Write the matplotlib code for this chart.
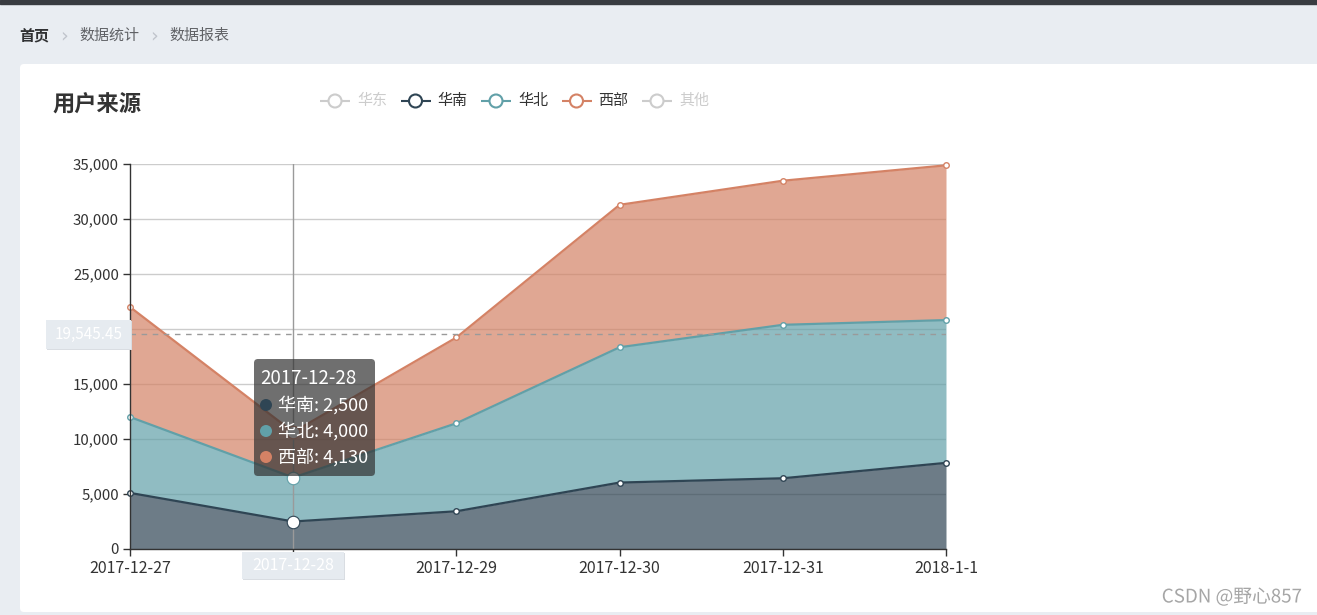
import matplotlib

matplotlib.use("Agg")
import matplotlib.pyplot as plt
from matplotlib import patheffects
from matplotlib.patches import Circle, FancyBboxPatch, Rectangle
from matplotlib.ticker import FuncFormatter

plt.rcParams["font.family"] = ["Noto Sans CJK SC", "DejaVu Sans"]

# data
dates = ["2017-12-27", "2017-12-28", "2017-12-29", "2017-12-30", "2017-12-31", "2018-1-1"]
south = [5100, 2500, 3430, 6040, 6430, 7830]
north = [6900, 4000, 8000, 12300, 13950, 12980]
west = [10000, 4130, 7800, 12950, 13100, 14070]
series_names = ["华南", "华北", "西部"]
series_values = [south, north, west]
series_colors = ["#2f4554", "#61a0a8", "#d48265"]

legend_names = ["华东", "华南", "华北", "西部", "其他"]
legend_colors = ["#c23531", "#2f4554", "#61a0a8", "#d48265", "#91c7ae"]
legend_active = [False, True, True, True, False]

y_ticks = [0, 5000, 10000, 15000, 20000, 25000, 30000, 35000]
hover_index = 1
hover_value = 19545.45

crumbs = ["首页", "数据统计", "数据报表"]

W, H = 1317, 615
fig = plt.figure(figsize=(W / 100, H / 100), dpi=100)
fig.patch.set_facecolor("#e9edf2")

# page background layer, pixel coordinates with origin top-left
bg = fig.add_axes([0, 0, 1, 1], zorder=0)
bg.set_xlim(0, W)
bg.set_ylim(H, 0)
bg.axis("off")
bg.add_patch(Rectangle((0, 0), W, 4, color="#393c41"))
bg.add_patch(FancyBboxPatch((20, 64), W, 548, boxstyle="round,pad=0,rounding_size=4",
                            fc="white", ec="none"))

# breadcrumb
x = 19
for i, crumb in enumerate(crumbs):
    bold = i == 0
    bg.text(x, 36, crumb, fontsize=10.8, va="center", ha="left",
            color="#303133" if bold else "#606266", fontweight="bold" if bold else "normal")
    x += 15 * len(crumb)
    if i < len(crumbs) - 1:
        bg.text(x + 15, 36, "›", fontsize=14, va="center", ha="center", color="#c0c4cc",
                family="DejaVu Sans")
        x += 30

bg.text(52, 104, "用户来源", fontsize=16, fontweight="bold", color="#333333",
        va="center", ha="left")

# legend
leg_x = 320
for name, color, active in zip(legend_names, legend_colors, legend_active):
    c = color if active else "#cccccc"
    bg.plot([leg_x, leg_x + 30], [101, 101], color=c, lw=1.5, solid_capstyle="butt")
    bg.add_patch(Circle((leg_x + 15, 101), 6.5, fc="white", ec=c, lw=1.5, zorder=3))
    bg.text(leg_x + 37, 101, name, fontsize=10.8, va="center", ha="left",
            color="#333333" if active else "#cccccc")
    leg_x += 80.5

bg.text(1302, 597, "CSDN @野心857", fontsize=13.5, color="#a6a6a6", ha="right", va="center",
        path_effects=[patheffects.withStroke(linewidth=2, foreground="white")])

# chart
ax = fig.add_axes([130 / W, (H - 549) / H, (946 - 130) / W, (549 - 164) / H], zorder=2)
ax.set_facecolor("none")
xs = list(range(len(dates)))
lower = [0] * len(dates)
for name, vals, color in zip(series_names, series_values, series_colors):
    upper = [a + b for a, b in zip(lower, vals)]
    ax.fill_between(xs, lower, upper, color=color, alpha=0.7, lw=0, zorder=2)
    ax.plot(xs, upper, color=color, lw=1.6, zorder=3, marker="o", markersize=4,
            markerfacecolor="white", markeredgecolor=color, markeredgewidth=1, clip_on=False)
    ax.plot([hover_index], [upper[hover_index]], marker="o", markersize=9, color=color,
            markerfacecolor="white", markeredgewidth=0.8, zorder=6)
    lower = upper

ax.axvline(hover_index, color="#9a9a9a", lw=1, zorder=4)
ax.axhline(hover_value, color="#9a9a9a", lw=1, ls=(0, (4, 4)), zorder=4)

ax.set_xlim(0, len(dates) - 1)
ax.set_ylim(0, y_ticks[-1])
ax.set_xticks(xs)
# the axis pointer labels cover the tick labels under them
ax.set_xticklabels(["" if i == hover_index else d for i, d in enumerate(dates)])
ax.set_yticks(y_ticks)
step = y_ticks[1] - y_ticks[0]
ax.yaxis.set_major_formatter(
    FuncFormatter(lambda v, _: "" if abs(v - hover_value) < step * 0.25 else f"{int(v):,}"))
ax.grid(axis="y", color="#cccccc", lw=1)
ax.grid(axis="x", visible=False)
ax.set_axisbelow(True)
for side in ("top", "right"):
    ax.spines[side].set_visible(False)
for side in ("left", "bottom"):
    ax.spines[side].set_color("#333333")
    ax.spines[side].set_linewidth(1)
    ax.spines[side].set_zorder(5)
ax.tick_params(length=5, width=1, color="#333333", labelcolor="#333333", labelsize=10.8, pad=3)
for lab in ax.get_xticklabels():
    lab.set_fontsize(11.5)

# tooltip and axis pointer labels on top
top = fig.add_axes([0, 0, 1, 1], zorder=10)
top.set_xlim(0, W)
top.set_ylim(H, 0)
top.axis("off")
top.set_facecolor("none")

fig.canvas.draw()
px, _ = ax.transData.transform((hover_index, 0))
_, py = ax.transData.transform((0, hover_value))
py = H - py

box_c = "#e6ebf0"
top.add_patch(Rectangle((47, py - 13), 85, 29, fc="#d9dde2", ec="none"))
top.add_patch(Rectangle((46, py - 14.5), 85, 29, fc=box_c, ec="none"))
top.text(88.5, py, f"{hover_value:,.2f}", fontsize=11, color="white", ha="center", va="center")

top.add_patch(Rectangle((px - 50, 553), 102, 27, fc="#d9dde2", ec="none"))
top.add_patch(Rectangle((px - 51, 552), 102, 27, fc=box_c, ec="none"))
top.text(px, 565.5, dates[hover_index], fontsize=11.5, color="white", ha="center", va="center")

top.add_patch(FancyBboxPatch((254, 359), 121, 117, boxstyle="round,pad=0,rounding_size=4",
                             fc=(50 / 255, 50 / 255, 50 / 255, 0.7), ec="none"))
top.text(260, 378, dates[hover_index], fontsize=13.5, color="white", ha="left", va="center")
for i, (name, vals, color) in enumerate(zip(series_names, series_values, series_colors)):
    y = 405 + 26 * i
    top.add_patch(Circle((266, y), 6, fc=color, ec="none"))
    top.text(278, y, f"{name}: {vals[hover_index]:,}", fontsize=13, color="white",
             ha="left", va="center")

fig.savefig("out.png", dpi=100, facecolor=fig.get_facecolor())
